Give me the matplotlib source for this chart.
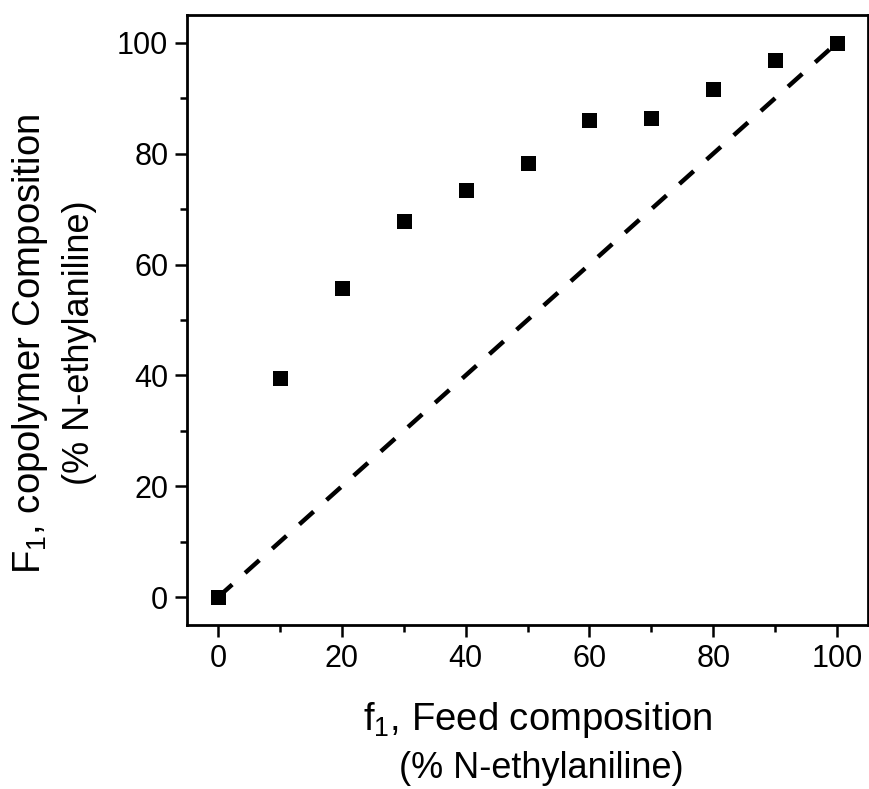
import matplotlib
matplotlib.use("Agg")
import matplotlib.pyplot as plt
from matplotlib.ticker import MultipleLocator

plt.rcParams['font.family'] = ['Liberation Sans', 'DejaVu Sans']
plt.rcParams['mathtext.fontset'] = 'custom'
plt.rcParams['mathtext.rm'] = 'Liberation Sans'
plt.rcParams['mathtext.it'] = 'Liberation Sans'

feed = [0, 10, 20, 30, 40, 50, 60, 70, 80, 90, 100]
copolymer = [0, 39.6, 55.8, 67.9, 73.5, 78.4, 86.1, 86.5, 91.7, 96.9, 100]
ideal_x = [0, 100]
ideal_y = [0, 100]
xlabel_lines = ['f$_\\mathregular{1}$, Feed composition', '(% N-ethylaniline)']
ylabel_lines = ['F$_\\mathregular{1}$, copolymer Composition', '(% N-ethylaniline)']

W, H = 869, 789
fig = plt.figure(figsize=(W / 100, H / 100), dpi=100)
ax = fig.add_axes([187/W, 1-625/H, (868-187)/W, (625-15)/H])

ax.plot(ideal_x, ideal_y, color='black', linestyle=(0, (4.3, 3.9)), linewidth=3.2,
        dash_capstyle='butt', zorder=2)
ax.plot(feed, copolymer, linestyle='none', marker='s', markersize=10.8,
        markeredgewidth=0, color='black', zorder=3)

ax.set_xlim(-5, 105)
ax.set_ylim(-5, 105)
ax.xaxis.set_major_locator(MultipleLocator(20))
ax.yaxis.set_major_locator(MultipleLocator(20))
ax.xaxis.set_minor_locator(MultipleLocator(10))
ax.yaxis.set_minor_locator(MultipleLocator(10))
ax.tick_params(which='major', direction='out', length=8.5, width=1.8, labelsize=22, pad=5)
ax.tick_params(which='minor', direction='out', length=5, width=1.8)
for s in ax.spines.values():
    s.set_linewidth(2.0)

# axis titles (two lines each, first line slightly wider as in the original)
fig.text(538/W, 1-730/H, xlabel_lines[0], fontsize=27.5, ha='center', va='baseline')
fig.text(541/W, 1-778/H, xlabel_lines[1], fontsize=26, ha='center', va='baseline')
fig.text(40/W, 1-344/H, ylabel_lines[0], fontsize=27.5, ha='center', va='baseline',
         rotation=90, rotation_mode='anchor')
fig.text(89/W, 1-343/H, ylabel_lines[1], fontsize=26, ha='center', va='baseline',
         rotation=90, rotation_mode='anchor')

fig.savefig('out.png', dpi=100)
